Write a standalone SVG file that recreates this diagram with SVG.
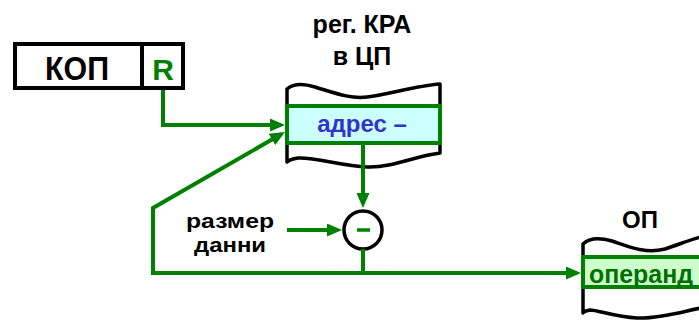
<svg xmlns="http://www.w3.org/2000/svg" width="699" height="320" viewBox="0 0 699 320">
<style>
.bx{fill:#fff;stroke:#000;stroke-width:4}
.tape{fill:#fff;stroke:#000;stroke-width:3.5;stroke-linejoin:round}
.cell{stroke:#008000;stroke-width:4}
.t{font-family:"Liberation Sans",Arial,sans-serif;font-weight:bold;text-anchor:middle}
.cn{fill:none;stroke:#008000;stroke-width:4}
</style>
<defs>
<marker id="ah" markerUnits="userSpaceOnUse" markerWidth="15" markerHeight="13" refX="11" refY="6.5" orient="auto">
<path d="M0,0 L15,6.5 L0,13 z" fill="#008000"/>
</marker>
</defs>
<rect width="699" height="320" fill="#fff"/>
<g id="kop">
<rect class="bx" x="15" y="44" width="168" height="44"/>
<line x1="142" y1="44" x2="142" y2="88" stroke="#000" stroke-width="4"/>
<text class="t" x="77" y="80" font-size="33" textLength="64" lengthAdjust="spacingAndGlyphs" fill="#000">КОП</text>
<text class="t" x="163" y="80" font-size="30" fill="#008000">R</text>
</g>
<g id="reg-kra">
<text class="t" x="362" y="33" font-size="25" fill="#000">рег. КРА</text>
<text class="t" x="362" y="65" font-size="25" fill="#000">в ЦП</text>
<path class="tape" d="M287,89 C293,84 302,83 315,87 C335,93 350,99 367,97 C390,94 415,86 440,84 L440,153 C415,156 392,168 367,167 C342,166 315,157 298,158 C292,159 289,160 287,162 Z"/>
<rect class="cell" x="287" y="106" width="153" height="37" fill="#ccffff"/>
<text class="t" x="362" y="132" font-size="24" fill="#3333cc">адрес –</text>
</g>
<g id="op">
<text class="t" x="640" y="228" font-size="24" fill="#000">ОП</text>
<path class="tape" d="M583,244 C589,238 598,237 612,241 C630,247 645,254 665,249 C680,244 692,239 701,237 L701,308 C685,311 660,319 637,318 C615,317 598,310 590,310 C586,311 584,311 583,313 Z"/>
<rect class="cell" x="583" y="257" width="120" height="30" fill="#ccffcc"/>
<text class="t" x="641" y="283" font-size="26" textLength="104" lengthAdjust="spacingAndGlyphs" fill="#007000">операнд</text>
</g>
<g id="subtract">
<circle cx="363" cy="230" r="19" fill="#fff" stroke="#000" stroke-width="3.5"/>
<line x1="357" y1="230" x2="370" y2="230" stroke="#008000" stroke-width="3.5"/>
</g>
<g id="size-label">
<text class="t" x="230" y="228" font-size="21" textLength="88" lengthAdjust="spacingAndGlyphs" fill="#000">размер</text>
<text class="t" x="230" y="252" font-size="21" textLength="72" lengthAdjust="spacingAndGlyphs" fill="#000">данни</text>
</g>
<g id="connectors">
<path class="cn" d="M163,90 V125 H281" marker-end="url(#ah)"/>
<path class="cn" d="M363,273 H153 V208 L281.5,134" marker-end="url(#ah)"/>
<path class="cn" d="M363,143 V204" marker-end="url(#ah)"/>
<path class="cn" d="M287,230 H338" marker-end="url(#ah)"/>
<path class="cn" d="M363,249 V273 H577" marker-end="url(#ah)"/>
</g>
</svg>
